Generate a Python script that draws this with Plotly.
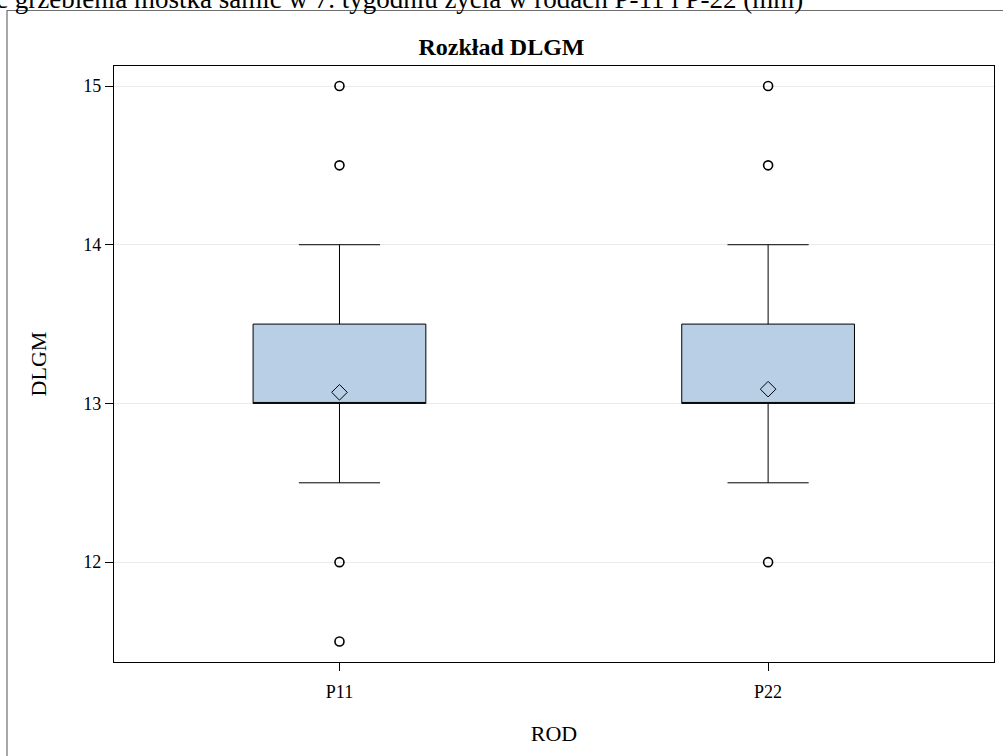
import plotly.graph_objects as go

categories = ["P11", "P22"]
q1 = [13.0, 13.0]
median = [13.0, 13.0]
q3 = [13.5, 13.5]
lower_whisker = [12.5, 12.5]
upper_whisker = [14.0, 14.0]
means = [13.07, 13.09]
outlier_cat = ["P11", "P11", "P11", "P11", "P22", "P22", "P22"]
outlier_val = [15.0, 14.5, 12.0, 11.5, 15.0, 14.5, 12.0]
y_ticks = [12, 13, 14, 15]

FONT = "Liberation Serif, Times New Roman, serif"

fig = go.Figure()
fig.add_trace(go.Box(
    x=categories, q1=q1, median=median, q3=q3,
    lowerfence=lower_whisker, upperfence=upper_whisker,
    fillcolor="#b9cfe6", line=dict(color="black", width=1),
    width=0.403, whiskerwidth=0.47, boxpoints=False, showlegend=False,
    hoverinfo="skip",
))
fig.add_trace(go.Scatter(
    x=categories, y=means, mode="markers", showlegend=False,
    marker=dict(symbol="diamond-open", size=12, color="black", line=dict(width=1)),
))
fig.add_trace(go.Scatter(
    x=outlier_cat, y=outlier_val, mode="markers", showlegend=False,
    marker=dict(symbol="circle-open", size=9, color="black", line=dict(width=1.6)),
))

W, H = 1003, 756
L, R, T, B = 114, 9, 66, 94
pw, ph = W - L - R, H - T - B

def px(x):
    return (x - L) / pw

def py(y):
    return (H - B - y) / ph

fig.update_layout(
    width=W, height=H,
    margin=dict(l=L, r=R, t=T, b=B),
    paper_bgcolor="white", plot_bgcolor="white",
    font=dict(family=FONT, color="black", size=18),
    showlegend=False,
    xaxis=dict(
        type="category", range=[-0.526, 1.527],
        showline=True, linecolor="black", linewidth=1.3, mirror=True,
        ticks="outside", ticklen=8, tickcolor="black", tickwidth=1,
        ticklabelstandoff=5,
        showgrid=False, zeroline=False,
        tickfont=dict(size=18, family=FONT),
        title=dict(text="ROD", font=dict(size=22, family=FONT), standoff=24),
    ),
    yaxis=dict(
        range=[11.371, 15.126],
        tickvals=y_ticks, ticktext=[str(v) for v in y_ticks],
        showline=True, linecolor="black", linewidth=1.3, mirror=True,
        ticks="outside", ticklen=8, tickcolor="black", tickwidth=1,
        showgrid=True, gridcolor="#ebebeb", gridwidth=1, zeroline=False,
        tickfont=dict(size=18, family=FONT),
        title=dict(text="DLGM", font=dict(size=22, family=FONT), standoff=30),
    ),
    title=dict(
        text="<b>Rozkład DLGM</b>", x=px(554), xanchor="center",
        y=1 - 47 / H, yanchor="middle", font=dict(size=24, family=FONT),
    ),
)

fig.add_shape(type="rect", xref="paper", yref="paper",
              x0=px(7), x1=px(1040), y0=py(775), y1=py(10.5),
              line=dict(color="#6e6e6e", width=1.2), fillcolor="rgba(0,0,0,0)", layer="below")

fig.add_annotation(
    text="ć grzebienia mostka samic w 7. tygodniu życia w rodach P-11 i P-22 (mm)",
    xref="paper", yref="paper", x=px(-6), y=py(9), xanchor="left", yanchor="bottom",
    showarrow=False, font=dict(size=27, family=FONT, color="black"),
    yshift=-7,
)

fig.write_html("out.html")
